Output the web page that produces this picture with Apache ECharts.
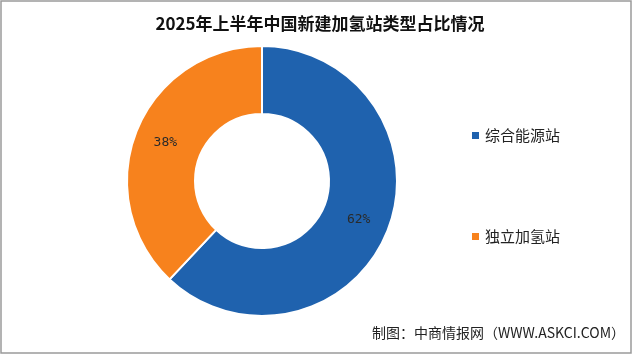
<!DOCTYPE html>
<html>
<head>
<meta charset="utf-8">
<script src="https://cdn.jsdelivr.net/npm/echarts@6/dist/echarts.min.js"></script>
<style>
html,body{margin:0;padding:0;background:#fff;}
#chart{width:640px;height:356px;}
</style>
</head>
<body>
<div id="chart"></div>
<script>
var titleText = '2025年上半年中国新建加氢站类型占比情况';
var categories = ['综合能源站', '独立加氢站'];
var values = [62, 38];
var colors = ['#1f62ae', '#f7821d'];
var sourceText = '制图：中商情报网（WWW.ASKCI.COM）';

var chart = echarts.init(document.getElementById('chart'));
chart.setOption({
  backgroundColor: '#ffffff',
  animation: false,
  color: colors,
  title: {
    text: titleText,
    left: 'center',
    top: 10,
    textStyle: { fontSize: 17, fontWeight: 'bold', color: '#111', fontFamily: 'Noto Sans CJK SC' }
  },
  legend: {
    orient: 'vertical',
    left: 465,
    top: 123,
    itemWidth: 9,
    itemHeight: 9,
    itemGap: 86,
    icon: 'rect',
    data: categories,
    textStyle: { fontSize: 15, color: '#222', fontFamily: 'Noto Sans CJK SC' }
  },
  graphic: [
    { type: 'rect', shape: { x: 1, y: 1, width: 630, height: 352 }, style: { fill: 'none', stroke: '#9a9a9a', lineWidth: 1.5 }, silent: true },
    { type: 'text', right: 15, top: 326, style: { text: sourceText, fill: '#222', font: '14px "Noto Sans CJK SC"' } }
  ],
  series: [{
    type: 'pie',
    center: [262, 181],
    radius: [67, 135],
    startAngle: 90,
    clockwise: true,
    itemStyle: { borderColor: '#ffffff', borderWidth: 2 },
    label: {
      show: true,
      position: 'inside',
      formatter: '{c}%',
      fontSize: 13,
      color: '#2a2a2a',
      fontFamily: 'DejaVu Sans Mono'
    },
    labelLine: { show: false },
    data: categories.map(function (c, i) { return { name: c, value: values[i] }; })
  }]
});
</script>
</body>
</html>
